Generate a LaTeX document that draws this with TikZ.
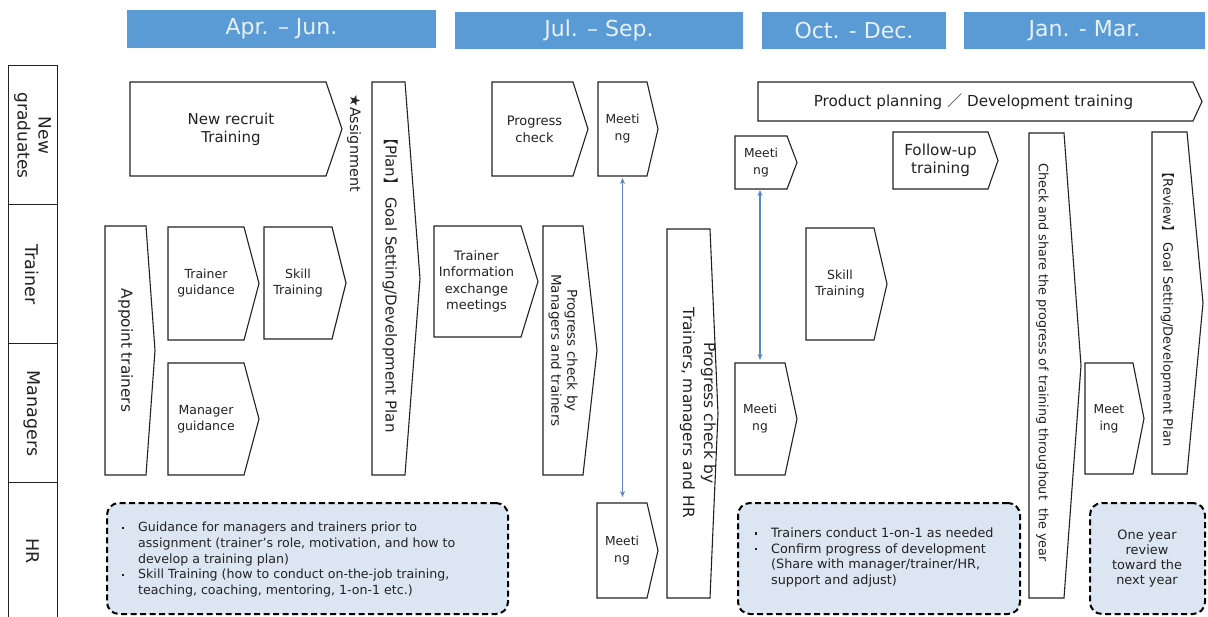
\documentclass[tikz,border=0pt]{standalone}
\usepackage{fontspec}
\setmainfont{DejaVu Sans}
\newfontfamily\cjk{Noto Sans CJK JP}
\usetikzlibrary{fit,arrows.meta,calc}
\definecolor{hdr}{HTML}{5B9BD5}
\definecolor{hdrtxt}{HTML}{E8F0F8}
\definecolor{hrfill}{HTML}{DCE6F2}
\definecolor{txt}{HTML}{222222}
\definecolor{arr}{HTML}{5A86C4}
\newcommand\fs[2]{\fontsize{#1}{#2}\selectfont}
\newcommand\bull{\makebox[17pt][l]{\hspace{1pt}\rule[3pt]{2.2pt}{2.2pt}}}
\tikzset{
  fitbox/.style={inner sep=0pt, outer sep=0pt},
  shp/.style={draw=txt, fill=white, line width=1.1pt, line join=miter},
  tx/.style={inner sep=0pt, align=center, text=txt},
  vtx/.style={tx, rotate=-90},
  hdrbox/.style={fill=hdr, inner sep=0pt, outer sep=0pt, text=hdrtxt, font=\fs{22}{26}},
  lanebox/.style={draw=txt, line width=1pt, inner sep=0pt, outer sep=0pt},
  hrbox/.style={draw=black, fill=hrfill, dash pattern=on 6pt off 3.5pt, line width=2pt, rounded corners=12pt, inner sep=0pt, outer sep=0pt},
  link/.style={draw=arr, line width=1.2pt, {Stealth[length=6pt,width=5pt]}-{Stealth[length=6pt,width=5pt]}},
}
\newcommand\chev[6]{%
  \node[fitbox, fit={(#2,#3) (#4,#5)}] (#1) {};
  \draw[shp] (#1.north west) -- (#1.north east) -- ({#6},{(#3+#5)/2}) -- (#1.south east) -- (#1.south west) -- cycle;
}
\begin{document}
\begin{tikzpicture}[x=1pt,y=-1pt]
\useasboundingbox[fill=white] (0,0) rectangle (1208,617);

% headers
\node[hdrbox, minimum width=309pt, minimum height=38pt] (h1) at (281.5,29) {Apr. – Jun.};
\node[hdrbox, minimum width=288pt, minimum height=37pt] (h2) at (599,30.5) {Jul. – Sep.};
\node[hdrbox, minimum width=184pt, minimum height=37pt] (h3) at (854,30.5) {Oct. - Dec.};
\node[hdrbox, minimum width=241pt, minimum height=37pt] (h4) at (1084.5,30.5) {Jan. - Mar.};

% lanes
\node[lanebox, minimum width=49pt, minimum height=139pt] (ln1) at (32.5,135.5) {};
\node[lanebox, minimum width=49pt, minimum height=139pt] (ln2) at (32.5,274.5) {};
\node[lanebox, minimum width=49pt, minimum height=139pt] (ln3) at (32.5,413.5) {};
\node[lanebox, minimum width=49pt, minimum height=147pt] (ln4) at (32.5,556.5) {};
\node[vtx, font=\fs{17}{21}] (ln1t) at (32.5,135.5) {New\\graduates};
\node[vtx, font=\fs{17.5}{21}] (ln2t) at (32.5,274.5) {Trainer};
\node[vtx, font=\fs{17.5}{21}] (ln3t) at (32.5,413.5) {Managers};
\node[vtx, font=\fs{17.5}{21}] (ln4t) at (32.5,551) {HR};

% shapes
\chev{nrt}{130}{82}{326}{176}{342}
\chev{plan}{372}{82}{405}{475}{420}
\chev{appoint}{105}{226}{146}{475}{155}
\chev{tg}{168}{227}{244}{340}{259}
\chev{skillA}{264}{227}{332}{339}{346}
\chev{mg}{168}{363}{244}{475}{259}
\chev{pc}{492}{82}{573}{176}{588}
\chev{meetA}{598}{82}{647}{176}{658}
\chev{tie}{434}{226}{521}{337}{538}
\chev{pcmt}{543}{226}{583}{475}{597}
\chev{meetB}{597}{503}{647}{598}{658}
\chev{pctmh}{667}{229}{710}{598}{718}
\chev{meetC}{735}{136}{787}{189}{797}
\chev{meetD}{735}{363}{785}{475}{797}
\chev{ppd}{758}{82}{1193}{121}{1202}
\chev{fut}{893}{132}{988}{189}{998}
\chev{skillB}{806}{228}{874}{340}{887}
\chev{cas}{1029}{133}{1064}{598}{1081}
\chev{review}{1152}{132}{1187}{474}{1203}
\chev{meetE}{1085}{363}{1133}{474}{1144}

% shape texts
\node[tx, font=\fs{15}{18}] (nrt-t) at ($(nrt.center)+(3,0)$) {New recruit\\Training};
\node[vtx, font=\fs{15}{18}] (plan-t) at ($(plan.center)+(2,3)$) {{\cjk 【}Plan{\cjk 】} Goal Setting/Development Plan};
\node[vtx, font=\fs{15.3}{18}] (appoint-t) at (appoint.center) {Appoint trainers};
\node[tx, font=\fs{12.5}{16}] (tg-t) at (tg.center) {Trainer\\guidance};
\node[tx, font=\fs{12.5}{16}] (skillA-t) at (skillA.center) {Skill\\Training};
\node[tx, font=\fs{12.5}{16}] (mg-t) at (mg.center) {Manager\\guidance};
\node[tx, font=\fs{13}{17}] (pc-t) at ($(pc.center)+(2,0)$) {Progress\\check};
\node[tx, font=\fs{12.3}{17}] (meetA-t) at (meetA.center) {Meeti\\ng};
\node[tx, font=\fs{13}{16.5}] (tie-t) at ($(tie.center)+(-1,0)$) {Trainer\\Information\\exchange\\meetings};
\node[vtx, font=\fs{13.5}{16}] (pcmt-t) at (pcmt.center) {Progress check by\\Managers and trainers};
\node[tx, font=\fs{12.3}{17}] (meetB-t) at (meetB.center) {Meeti\\ng};
\node[vtx, font=\fs{15.5}{21}] (pctmh-t) at (698,413) {Progress check by\\Trainers, managers and HR};
\node[tx, font=\fs{12.3}{17}] (meetC-t) at (meetC.center) {Meeti\\ng};
\node[tx, font=\fs{12.3}{17}] (meetD-t) at (meetD.center) {Meeti\\ng};
\node[tx, font=\fs{15.2}{18}] (ppd-t) at ($(ppd.center)+(-2,0)$) {Product planning {\cjk ／} Development training};
\node[tx, font=\fs{15.2}{17.5}] (fut-t) at (fut.center) {Follow-up\\training};
\node[tx, font=\fs{12.5}{16}] (skillB-t) at (skillB.center) {Skill\\Training};
\node[vtx, font=\fs{12.8}{16}] (cas-t) at ($(cas.center)+(-4,-3)$) {Check and share the progress of training throughout\ \ the year};
\node[vtx, font=\fs{13}{16}] (review-t) at ($(review.center)+(-2,3)$) {{\cjk 【}Review{\cjk 】} Goal Setting/Development Plan};
\node[tx, font=\fs{12.3}{17}] (meetE-t) at (meetE.center) {Meet\\ing};
\node[vtx, font=\fs{14.4}{18}] (assign) at (354,143) {★Assignment};

% connectors
\draw[link, shorten <=2pt, shorten >=6pt] (meetA.south) -- (meetA.south |- meetB.north);
\draw[link, shorten <=1pt, shorten >=3pt] (meetD.north |- meetC.south) -- (meetD.north);

% HR boxes
\node[hrbox, fit={(107,503) (508,614)}] (hr1) {};
\node[hrbox, fit={(738,503) (1020,614)}] (hr2) {};
\node[hrbox, fit={(1090,503) (1205,614)}] (hr3) {};
\node[tx, anchor=west, font=\fs{12.6}{15.7}] (hr1t) at (121,560) {%
\begin{tabular}{@{}l@{}l@{}}
\bull & Guidance for managers and trainers prior to\\
 & assignment (trainer's role, motivation, and how to\\
 & develop a training plan)\\
\bull & Skill Training (how to conduct on-the-job training,\\
 & teaching, coaching, mentoring, 1-on-1 etc.)
\end{tabular}};
\node[tx, anchor=west, font=\fs{12.8}{15.7}] (hr2t) at (754,558) {%
\begin{tabular}{@{}l@{}l@{}}
\bull & Trainers conduct 1-on-1 as needed\\
\bull & Confirm progress of development\\
 & (Share with manager/trainer/HR,\\
 & support and adjust)
\end{tabular}};
\node[tx, font=\fs{12.9}{15}] (hr3t) at (1147,559) {One year\\review\\toward the\\next year};
\end{tikzpicture}
\end{document}
